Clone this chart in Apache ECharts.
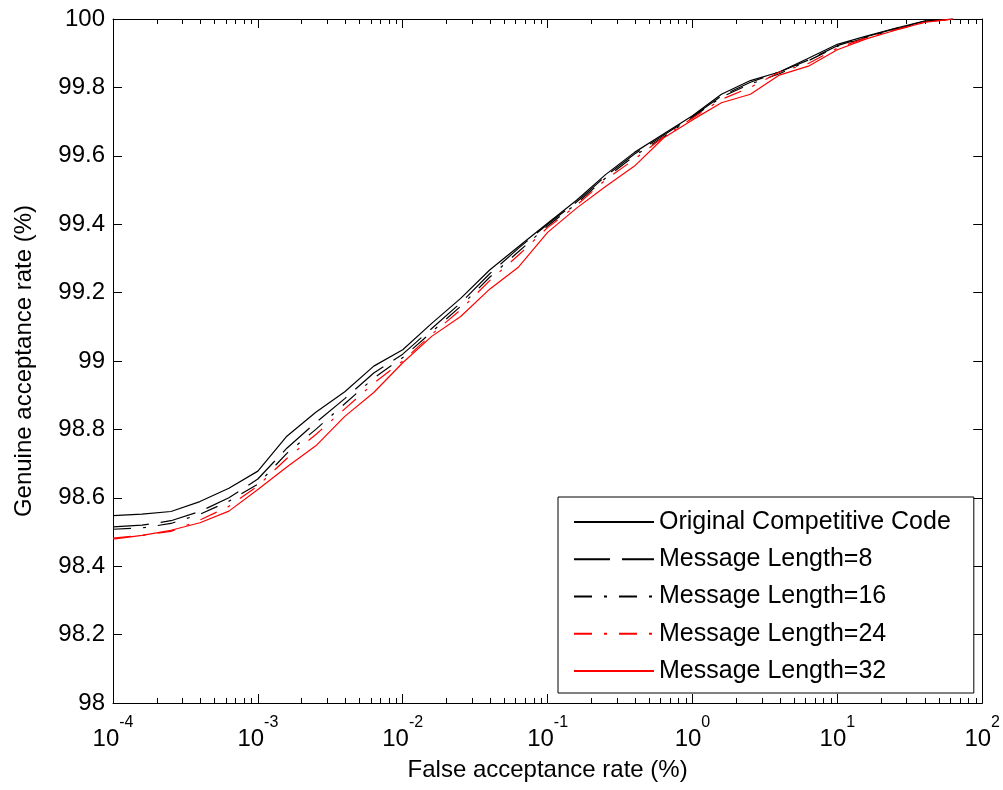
<!DOCTYPE html>
<html lang="en">
<head>
  <meta charset="UTF-8">
  <title>ROC</title>
  <script src="https://cdn.jsdelivr.net/npm/echarts@6/dist/echarts.min.js"></script>
  <style>
    * { margin: 0; padding: 0; }
    body { background: #fff; }
    #main { width: 1003px; height: 790px; }
  </style>
</head>
<body>
  <div id="main"></div>
  <script>
    // false acceptance rate (%), log spaced
    var far = [1e-4, 1.585e-4, 2.512e-4, 3.981e-4, 6.31e-4,
               1e-3, 1.585e-3, 2.512e-3, 3.981e-3, 6.31e-3,
               1e-2, 1.585e-2, 2.512e-2, 3.981e-2, 6.31e-2,
               0.1, 0.1585, 0.2512, 0.3981, 0.631,
               1, 1.585, 2.512, 3.981, 6.31,
               10, 15.85, 25.12, 39.81, 63.1];

    // genuine acceptance rate (%) for each curve
    var original = [98.548, 98.552, 98.560, 98.589, 98.628, 98.678, 98.780, 98.850, 98.910, 98.985,
                    99.033, 99.110, 99.183, 99.266, 99.335, 99.403, 99.470, 99.545, 99.610, 99.664,
                    99.717, 99.780, 99.820, 99.845, 99.885, 99.926, 99.950, 99.973, 99.994, 100];
    var len8 = [98.515, 98.520, 98.533, 98.560, 98.600, 98.655, 98.745, 98.820, 98.890, 98.965,
                99.020, 99.095, 99.170, 99.255, 99.330, 99.400, 99.465, 99.540, 99.605, 99.660,
                99.715, 99.775, 99.815, 99.845, 99.880, 99.922, 99.948, 99.972, 99.993, 100];
    var len16 = [98.508, 98.512, 98.525, 98.552, 98.590, 98.640, 98.730, 98.800, 98.875, 98.950,
                 99.010, 99.085, 99.160, 99.245, 99.320, 99.395, 99.460, 99.535, 99.600, 99.655,
                 99.712, 99.772, 99.810, 99.840, 99.878, 99.920, 99.946, 99.970, 99.992, 100];
    var len24 = [98.482, 98.490, 98.502, 98.535, 98.575, 98.635, 98.715, 98.785, 98.860, 98.935,
                 99.000, 99.078, 99.150, 99.235, 99.310, 99.390, 99.455, 99.530, 99.590, 99.655,
                 99.710, 99.765, 99.800, 99.845, 99.870, 99.915, 99.945, 99.968, 99.990, 100];
    var len32 = [98.479, 98.490, 98.505, 98.527, 98.561, 98.624, 98.690, 98.752, 98.838, 98.908,
                 98.995, 99.072, 99.130, 99.210, 99.275, 99.376, 99.447, 99.510, 99.570, 99.652,
                 99.705, 99.755, 99.780, 99.836, 99.862, 99.910, 99.942, 99.967, 99.990, 100];

    var names = ['Original Competitive Code', 'Message Length=8', 'Message Length=16',
                 'Message Length=24', 'Message Length=32'];

    var FONT = 'Liberation Sans, Arial, sans-serif';

    // minor ticks at 2..9 of each decade (axis decoration only)
    var minorTicks = [];
    for (var d = -4; d < 2; d++) {
      for (var m = 2; m <= 9; m++) minorTicks.push([m * Math.pow(10, d), 98]);
    }

    function pairs(ys) {
      return far.map(function (x, i) { return [x, ys[i]]; });
    }

    function curve(name, ys, color, dash) {
      return {
        name: name,
        type: 'line',
        data: pairs(ys),
        symbol: 'none',
        showSymbol: false,
        animation: false,
        lineStyle: { color: color, width: 1.2, type: dash },
        itemStyle: { color: color }
      };
    }

    var chart = echarts.init(document.getElementById('main'));
    var option = {
      backgroundColor: '#fff',
      animation: false,
      grid: { left: 113, top: 19, right: 20, bottom: 87 },
      legend: {
        orient: 'vertical',
        left: 558,
        top: 497,
        data: names,
        itemWidth: 80,
        itemHeight: 14,
        itemGap: 7.25,
        padding: [10, 23, 7, 15],
        borderColor: '#000',
        borderWidth: 1,
        backgroundColor: '#fff',
        itemStyle: { opacity: 0 },
        textStyle: { fontFamily: FONT, fontSize: 25, color: '#000', lineHeight: 30 }
      },
      xAxis: [{
        type: 'log',
        logBase: 10,
        min: 1e-4,
        max: 100,
        splitNumber: 6,
        name: 'False acceptance rate (%)',
        nameLocation: 'middle',
        nameGap: 55,
        nameTextStyle: { fontFamily: FONT, fontSize: 24, color: '#000' },
        axisLine: { lineStyle: { color: '#000', width: 1 } },
        axisTick: { inside: true, length: 9, lineStyle: { color: '#000' } },
        splitLine: { show: false },
        axisLabel: {
          margin: 12,
          formatter: function (v) {
            return '{b|10}{s|' + Math.round(Math.log10(v)) + '}';
          },
          rich: {
            b: { fontFamily: FONT, fontSize: 24, color: '#000', lineHeight: 36, verticalAlign: 'bottom' },
            s: { fontFamily: FONT, fontSize: 16, color: '#000', lineHeight: 36, verticalAlign: 'top' }
          }
        }
      }, {
        type: 'log',
        logBase: 10,
        min: 1e-4,
        max: 100,
        splitNumber: 6,
        position: 'top',
        axisLine: { lineStyle: { color: '#000', width: 1 } },
        axisTick: { inside: true, length: 9, lineStyle: { color: '#000' } },
        axisLabel: { show: false },
        splitLine: { show: false }
      }],
      yAxis: [{
        type: 'value',
        min: 98,
        max: 100,
        interval: 0.2,
        name: 'Genuine acceptance rate (%)',
        nameLocation: 'middle',
        nameGap: 77,
        nameTextStyle: { fontFamily: FONT, fontSize: 24, color: '#000' },
        axisLine: { show: true, lineStyle: { color: '#000', width: 1 } },
        axisTick: { show: true, inside: true, length: 9, lineStyle: { color: '#000' } },
        splitLine: { show: false },
        axisLabel: { margin: 8, fontFamily: FONT, fontSize: 24, color: '#000' }
      }, {
        type: 'value',
        min: 98,
        max: 100,
        interval: 0.2,
        position: 'right',
        axisLine: { show: true, lineStyle: { color: '#000', width: 1 } },
        axisTick: { show: true, inside: true, length: 9, lineStyle: { color: '#000' } },
        axisLabel: { show: false },
        splitLine: { show: false }
      }],
      series: [
        curve(names[0], original, '#000', 'solid'),
        curve(names[1], len8, '#000', [36, 12]),
        curve(names[2], len16, '#000', [18, 12, 3, 12]),
        curve(names[3], len24, '#ff0000', [18, 12, 3, 12]),
        curve(names[4], len32, '#ff0000', 'solid'),
        {
          type: 'custom',
          silent: true,
          clip: false,
          data: minorTicks,
          encode: { x: 0, y: 1 },
          renderItem: function (params, api) {
            var pb = api.coord([api.value(0), 98]);
            var pt = api.coord([api.value(0), 100]);
            var x = Math.round(pb[0]) + 0.5;
            return {
              type: 'group',
              children: [
                { type: 'line', shape: { x1: x, y1: pb[1], x2: x, y2: pb[1] - 5 }, style: { stroke: '#000', lineWidth: 1 } },
                { type: 'line', shape: { x1: x, y1: pt[1], x2: x, y2: pt[1] + 5 }, style: { stroke: '#000', lineWidth: 1 } }
              ]
            };
          }
        }
      ]
    };
    chart.setOption(option);
  </script>
</body>
</html>
